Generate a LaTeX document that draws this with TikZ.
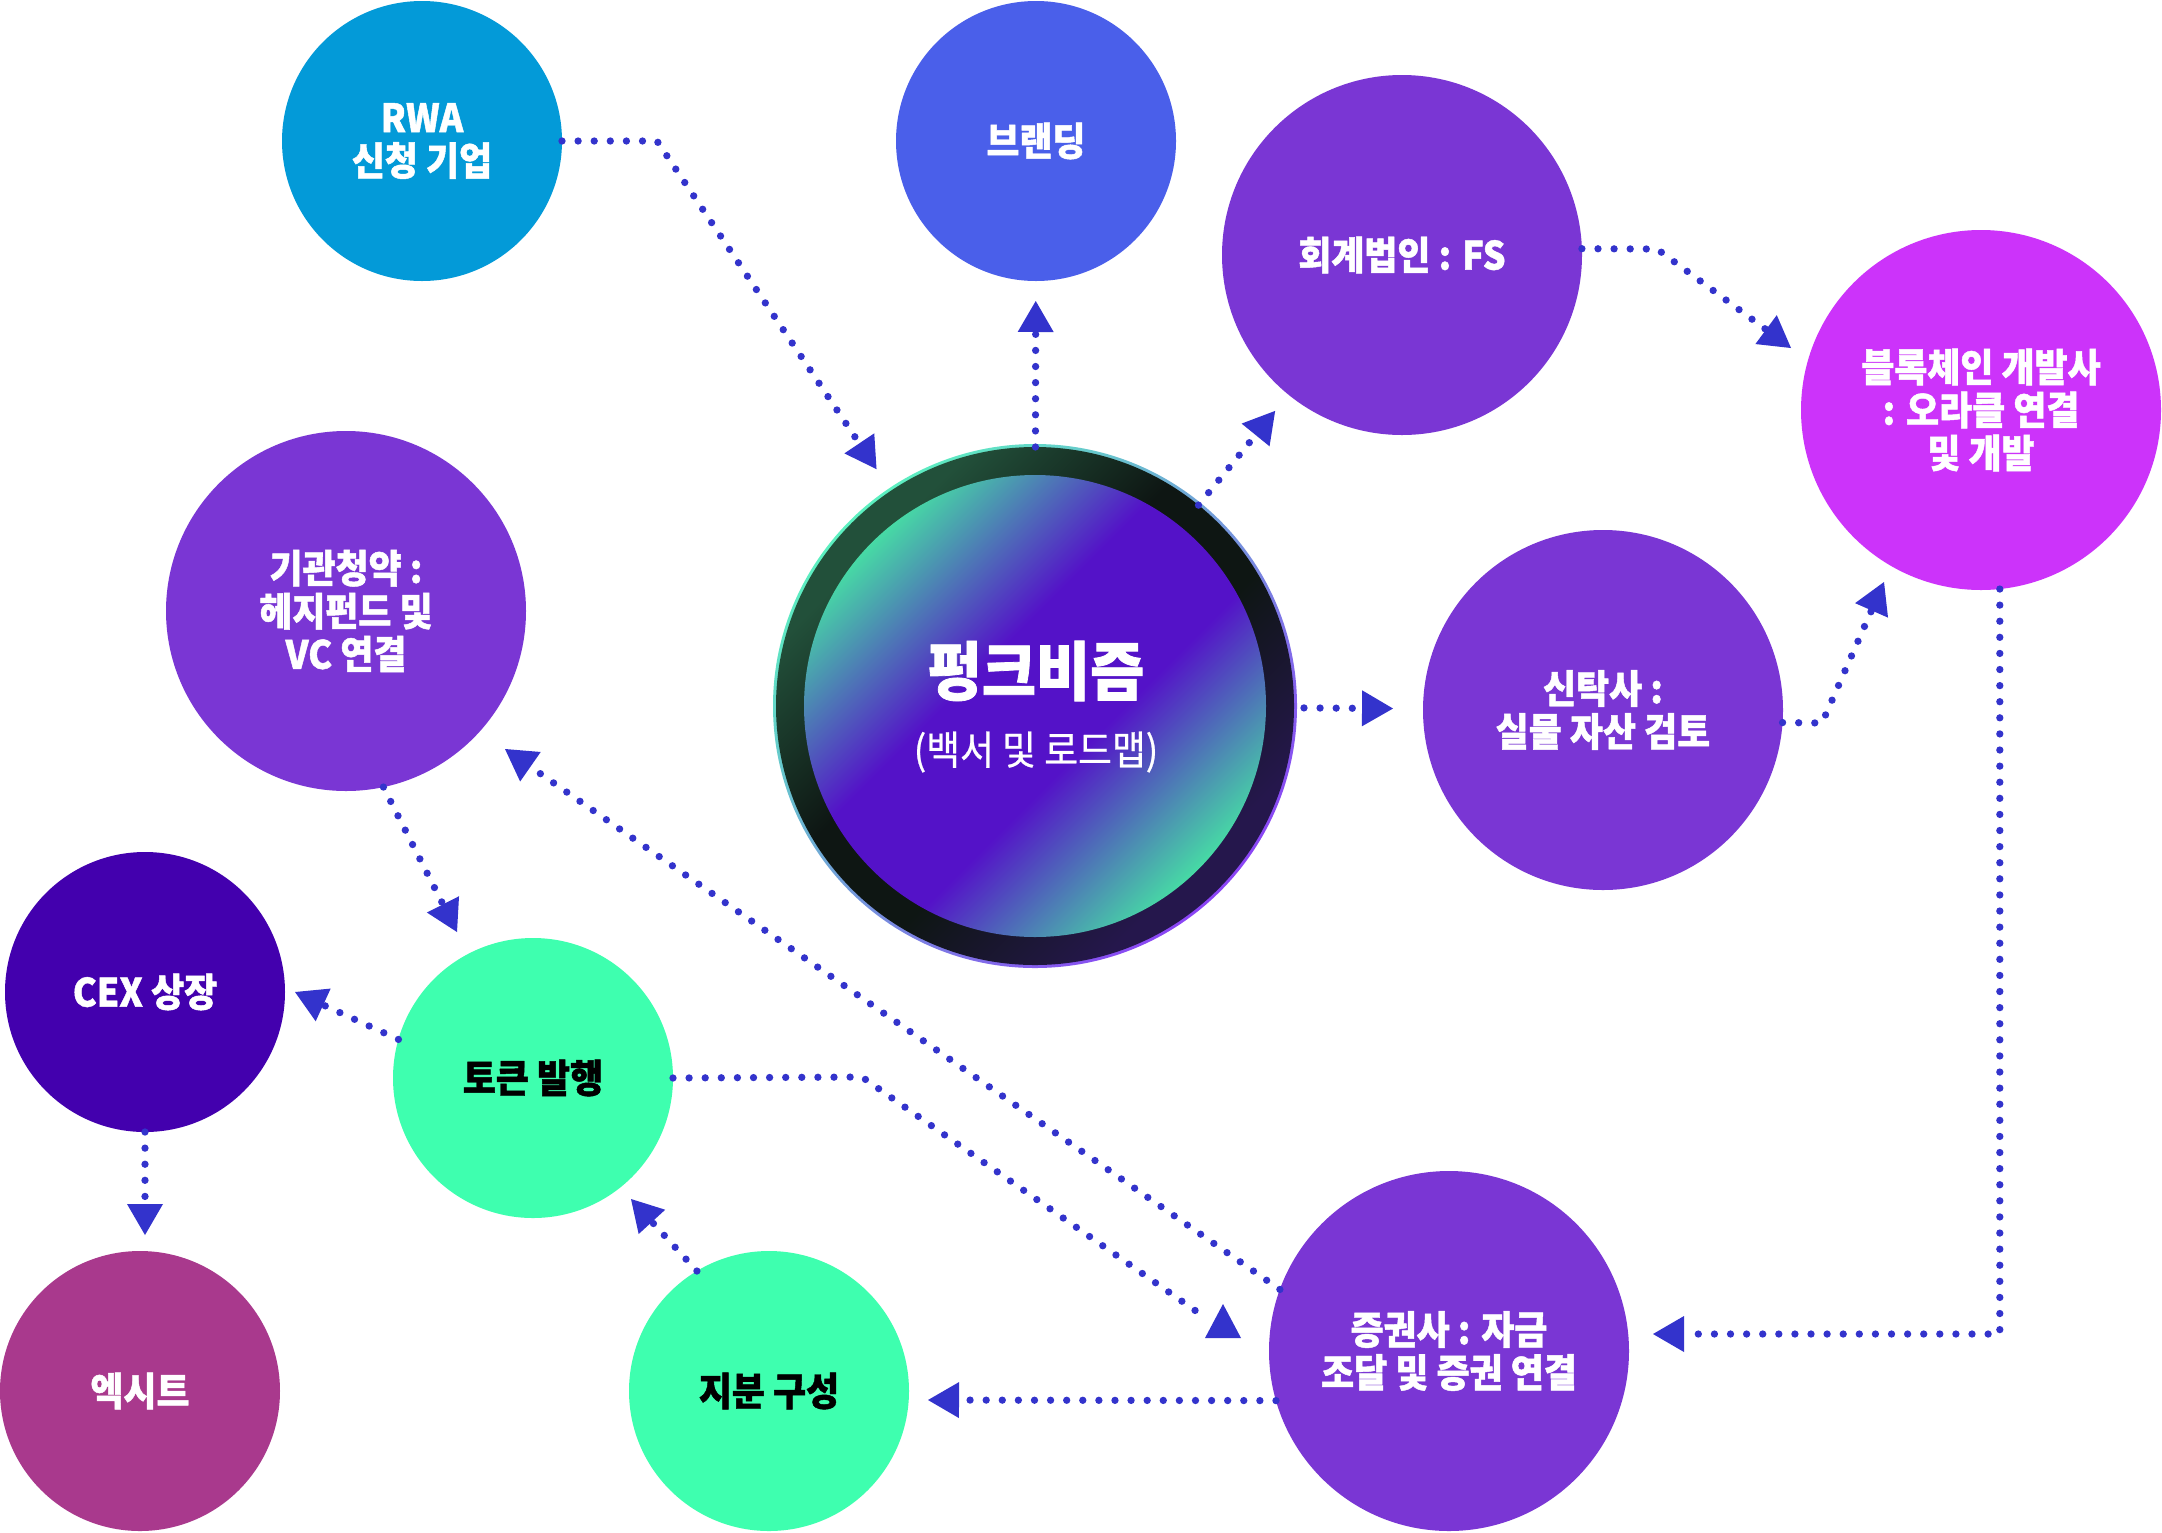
\documentclass[tikz,border=0pt]{standalone}
\usepackage{fontspec}
\setmainfont{Noto Sans CJK KR}[FakeStretch=0.92, BoldFeatures={FakeBold=1.2}]
\usetikzlibrary{arrows.meta}
\definecolor{cblue}{HTML}{039AD8}
\definecolor{cbrand}{HTML}{4A5FEA}
\definecolor{cpurple}{HTML}{7A36D4}
\definecolor{cmagenta}{HTML}{CC33FA}
\definecolor{cdeep}{HTML}{4300AE}
\definecolor{cgreen}{HTML}{3EFFAF}
\definecolor{cexit}{HTML}{A9398D}
\definecolor{carrow}{HTML}{3333CC}
\definecolor{ringA}{HTML}{22503A}
\definecolor{ringM}{HTML}{0E1613}
\definecolor{ringB}{HTML}{25174C}
\definecolor{haloA}{HTML}{5CF0C0}
\definecolor{haloB}{HTML}{8B44F5}
\definecolor{coreG}{HTML}{47D9A5}
\definecolor{coreP}{HTML}{5412C8}
\pgfdeclarehorizontalshading{coreshade}{100bp}{color(0bp)=(coreG); color(25bp)=(coreG); color(43bp)=(coreP); color(57bp)=(coreP); color(75bp)=(coreG); color(100bp)=(coreG)}
\pgfdeclarehorizontalshading{ringshade}{100bp}{color(0bp)=(ringA); color(28bp)=(ringA); color(44bp)=(ringM); color(56bp)=(ringM); color(72bp)=(ringB); color(100bp)=(ringB)}
\newcommand\lblfont{\fontsize{19.5}{21.5}\selectfont\bfseries}
\begin{document}
\begin{tikzpicture}[x=0.5pt,y=-0.5pt,
  bub/.style={circle, inner sep=0pt, outer sep=0pt, align=center, font=\lblfont, text=white},
  smallbub/.style={bub, minimum size=140pt},
  bigbub/.style={bub, minimum size=180pt},
  dotline/.style={draw=carrow, line width=3.65pt, dash pattern=on 0pt off 8.05pt, line cap=round},
  conn/.style={dotline, -{Triangle[length=15.5pt,width=18pt,line width=0pt]}},
]
\fill[white] (0,0) rectangle (2162,1532);
\useasboundingbox (0,0) rectangle (2162,1532);

% central node
\node[circle, inner sep=0pt, minimum size=262pt, top color=haloA, bottom color=haloB, shading angle=45] (halo) at (1035,706) {};
\node[circle, inner sep=0pt, outer sep=0pt, minimum size=259pt, shading=ringshade, shading angle=-45] (core) at (1035,706) {};
\node[circle, inner sep=0pt, minimum size=231pt, shading=coreshade, shading angle=-45] (corein) at (1035,706) {};
\node[text=white, font=\fontsize{32}{36}\selectfont\bfseries] (title) at (1036,671) {펑크비즘};
\node[text=white, font=\fontsize{20}{22}\selectfont\addfontfeature{FakeBold=0.6}] (subtitle) at (1036,752) {(백서 및 로드맵)};

% satellites
\node[smallbub, fill=cblue] (rwa) at (422,141) {RWA\\신청 기업};
\node[smallbub, fill=cbrand] (brand) at (1036,141) {브랜딩};
\node[bigbub, fill=cpurple] (acct) at (1402,255) {회계법인 : FS};
\node[bigbub, fill=cmagenta] (chain) at (1981,410) {블록체인 개발사\\: 오라클 연결\\및 개발};
\node[bigbub, fill=cpurple] (inst) at (346,611) {기관청약 :\\헤지펀드 및\\VC 연결};
\node[bigbub, fill=cpurple] (trust) at (1603,710) {신탁사 :\\실물 자산 검토};
\node[smallbub, fill=cdeep] (cex) at (145,992) {CEX 상장};
\node[smallbub, fill=cgreen, text=black] (token) at (533,1078) {토큰 발행};
\node[smallbub, fill=cexit] (exit) at (140,1391) {엑시트};
\node[smallbub, fill=cgreen, text=black] (equity) at (769,1391) {지분 구성};
\node[bigbub, fill=cpurple] (sec) at (1449,1351) {증권사 : 자금\\조달 및 증권 연결};

% bend points and free ends
\coordinate (k1) at (657,141);
\coordinate (k4) at (1657,249);
\coordinate (t4) at (1791,348);
\coordinate (k6) at (1822,723);
\coordinate (t6) at (1884,582);
\coordinate (t7) at (1653,1334);
\coordinate (t8) at (928,1400);
\coordinate (t9) at (631,1199);
\coordinate (t10) at (295,992);
\coordinate (t11) at (145,1235);
\coordinate (t12) at (457,932);
\coordinate (t13) at (505,749);
\coordinate (k14) at (862,1077);
\coordinate (e14) at (1203,1316);

% connectors
\draw[conn, shorten >=13pt] (rwa.east) -- (k1) -- (core);
\draw[conn, shorten >=10pt] (core) -- (brand);
\draw[conn, shorten >=10.5pt] (core) -- (acct);
\draw[conn] (acct.2) -- (k4) -- (t4);
\draw[conn, shorten <=5pt, shorten >=15pt] (core) -- (trust);
\draw[conn] (trust.-4) -- (k6) -- (t6);
\draw[conn] (chain.-84) |- (t7);
\draw[conn] (sec.196) -- (t8);
\draw[conn] (equity.121) -- (t9);
\draw[conn] (token.164) -- (t10);
\draw[conn] (cex.south) -- (t11);
\draw[conn] (inst.-78) -- (t12);
\draw[conn] (sec.160) -- (t13);
\draw[dotline] (token.east) -- (k14) -- (e14);
\fill[carrow] (1223,1304) -- (1241,1338) -- (1205,1338) -- cycle;
\end{tikzpicture}
\end{document}
